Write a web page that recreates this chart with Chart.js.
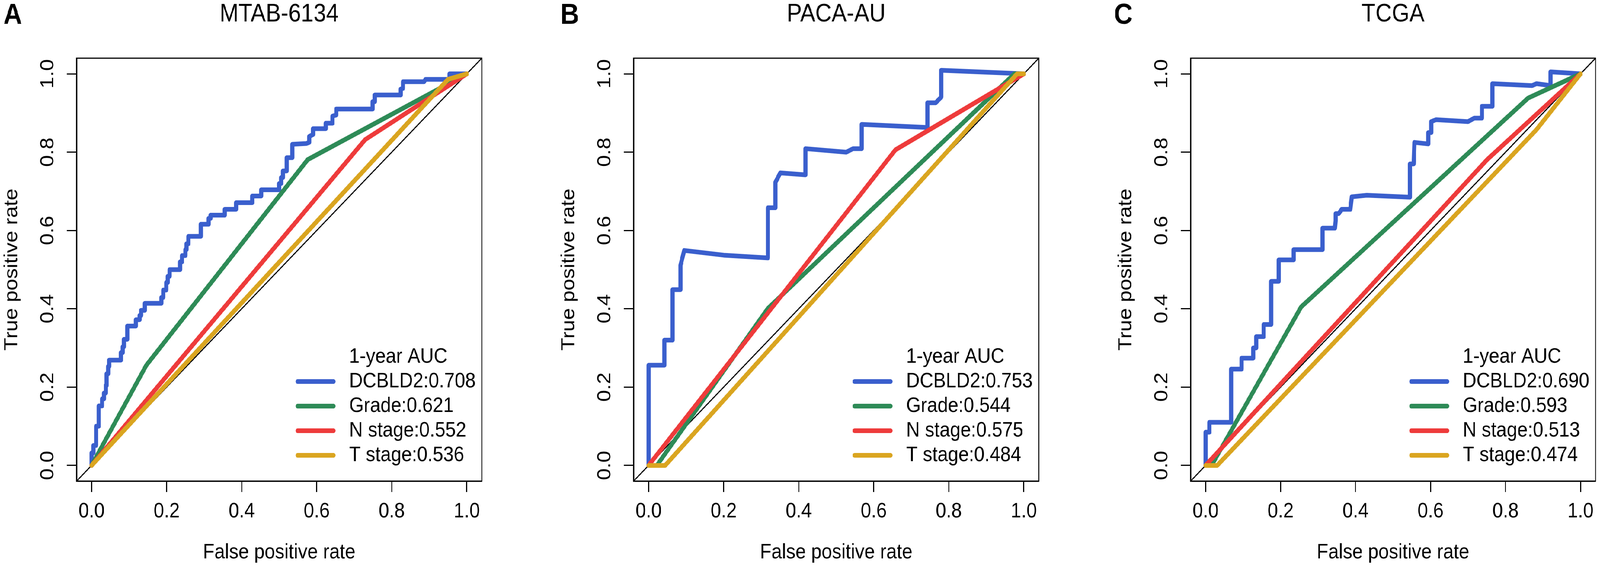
<!DOCTYPE html>
<html>
<head>
<meta charset="utf-8">
<script src="https://cdn.jsdelivr.net/npm/chart.js@4.4.1/dist/chart.umd.min.js"></script>
<style>
  html, body { margin: 0; padding: 0; background: #fff; overflow: hidden; }
  #figura { position: absolute; left: 0; top: 0; width: 4596px; height: 1452px; transform-origin: 0 0; }
  canvas { position: absolute; top: 0; }
</style>
</head>
<body>
<div id="figura">
<canvas id="painelA"></canvas>
<canvas id="painelB"></canvas>
<canvas id="painelC"></canvas>
</div>
<script>
// panel titles and letters
const titles = ["MTAB-6134", "PACA-AU", "TCGA"];
const letters = ["A", "B", "C"];
const seriesNames = ["DCBLD2", "Grade", "N stage", "T stage"];
const tickValues = [0, 0.2, 0.4, 0.6, 0.8, 1.0];
const diagonal = [-0.04, 1.04];

// AUC values shown in the legends
const aucMtab = [0.708, 0.621, 0.552, 0.536];
const aucPaca = [0.753, 0.544, 0.575, 0.484];
const aucTcga = [0.690, 0.593, 0.513, 0.474];

// ROC points [false positive rate, true positive rate]
const mtabDcbld2 = [
  [0, 0], [0, 0.032], [0.005, 0.032], [0.005, 0.051], [0.012, 0.051], [0.012, 0.10],
  [0.019, 0.10], [0.019, 0.152], [0.028, 0.152], [0.028, 0.17], [0.033, 0.17], [0.033, 0.185],
  [0.038, 0.185], [0.038, 0.204], [0.04, 0.204], [0.04, 0.234], [0.044, 0.234], [0.044, 0.253],
  [0.047, 0.253], [0.047, 0.269], [0.078, 0.269], [0.078, 0.288], [0.083, 0.288], [0.083, 0.303],
  [0.086, 0.303], [0.086, 0.322], [0.095, 0.322], [0.095, 0.356], [0.118, 0.356], [0.118, 0.372],
  [0.128, 0.372], [0.128, 0.383], [0.132, 0.383], [0.132, 0.396], [0.142, 0.396], [0.142, 0.414],
  [0.186, 0.414], [0.186, 0.429], [0.191, 0.429], [0.191, 0.448], [0.199, 0.448], [0.199, 0.467],
  [0.203, 0.467], [0.203, 0.483], [0.208, 0.483], [0.208, 0.50], [0.236, 0.50], [0.236, 0.52],
  [0.241, 0.52], [0.241, 0.536], [0.25, 0.536], [0.25, 0.551], [0.253, 0.551], [0.253, 0.566],
  [0.258, 0.566], [0.258, 0.585], [0.291, 0.585], [0.291, 0.616], [0.312, 0.616], [0.312, 0.631],
  [0.317, 0.631], [0.317, 0.639], [0.355, 0.639], [0.355, 0.654], [0.385, 0.654], [0.385, 0.671],
  [0.428, 0.671], [0.428, 0.688], [0.452, 0.688], [0.452, 0.704], [0.50, 0.704], [0.50, 0.72],
  [0.505, 0.72], [0.505, 0.735], [0.51, 0.735], [0.51, 0.752], [0.52, 0.752], [0.52, 0.786],
  [0.535, 0.786], [0.535, 0.82], [0.572, 0.822], [0.58, 0.825], [0.58, 0.84], [0.59, 0.845],
  [0.59, 0.86], [0.624, 0.86], [0.624, 0.874], [0.642, 0.874], [0.642, 0.892], [0.652, 0.895],
  [0.652, 0.91], [0.749, 0.91], [0.749, 0.929], [0.755, 0.929], [0.755, 0.946], [0.824, 0.946],
  [0.824, 0.961], [0.83, 0.963], [0.83, 0.98], [0.886, 0.98], [0.89, 0.986], [0.954, 0.986],
  [0.954, 1.0], [1, 1]
];
const mtabGrade = [[0, 0], [0.146, 0.256], [0.576, 0.781], [1, 1]];
const mtabN = [[0, 0], [0.729, 0.832], [1, 1]];
const mtabT = [[0, 0], [0.95, 0.986], [1, 1]];

const pacaDcbld2 = [
  [0, 0], [0, 0.256], [0.042, 0.256], [0.042, 0.32], [0.064, 0.32], [0.064, 0.449],
  [0.085, 0.449], [0.085, 0.511], [0.095, 0.549], [0.2, 0.537], [0.318, 0.53], [0.318, 0.658],
  [0.338, 0.658], [0.338, 0.723], [0.351, 0.747], [0.418, 0.742], [0.418, 0.809], [0.527, 0.80],
  [0.545, 0.809], [0.568, 0.809], [0.568, 0.871], [0.743, 0.863], [0.743, 0.926], [0.765, 0.926],
  [0.78, 0.941], [0.78, 1.009], [1, 1]
];
const pacaGrade = [[0, 0], [0.022, 0], [0.318, 0.401], [0.975, 1], [1, 1]];
const pacaN = [[0, 0], [0.658, 0.806], [1, 1]];
const pacaT = [[0, 0], [0.044, 0], [0.982, 1], [1, 1]];

const tcgaDcbld2 = [
  [0, 0], [0, 0.085], [0.01, 0.085], [0.01, 0.11], [0.068, 0.11], [0.068, 0.246],
  [0.096, 0.246], [0.096, 0.274], [0.127, 0.274], [0.127, 0.30], [0.135, 0.30], [0.135, 0.329],
  [0.155, 0.329], [0.155, 0.36], [0.175, 0.36], [0.175, 0.47], [0.195, 0.47], [0.195, 0.525],
  [0.235, 0.525], [0.235, 0.551], [0.312, 0.551], [0.312, 0.606], [0.345, 0.606], [0.347, 0.625],
  [0.347, 0.643], [0.355, 0.643], [0.363, 0.654], [0.386, 0.654], [0.39, 0.686], [0.43, 0.69],
  [0.545, 0.685], [0.545, 0.77], [0.555, 0.77], [0.557, 0.825], [0.594, 0.821], [0.594, 0.85],
  [0.602, 0.85], [0.602, 0.878], [0.615, 0.883], [0.70, 0.878], [0.717, 0.887], [0.737, 0.887],
  [0.737, 0.917], [0.765, 0.917], [0.765, 0.975], [0.871, 0.97], [0.883, 0.975], [0.92, 0.97],
  [0.92, 1.005], [1, 1]
];
const tcgaGrade = [[0, 0], [0.016, 0], [0.255, 0.405], [0.86, 0.938], [1, 1]];
const tcgaN = [[0, 0], [0.75, 0.78], [1, 1]];
const tcgaT = [[0, 0], [0.031, 0], [0.883, 0.858], [1, 1]];

const colors = ["#3A5FCD", "#2E8B57", "#EE3B3B", "#DAA520"];
const fontFamily = "'Liberation Sans', Arial, Helvetica, sans-serif";

const panels = [
  { id: "painelA", left: 0, width: 1600, letterX: 10, series: [mtabDcbld2, mtabGrade, mtabN, mtabT], auc: aucMtab },
  { id: "painelB", left: 1600, width: 1600, letterX: 10, series: [pacaDcbld2, pacaGrade, pacaN, pacaT], auc: aucPaca },
  { id: "painelC", left: 3200, width: 1396, letterX: 0, series: [tcgaDcbld2, tcgaGrade, tcgaN, tcgaT], auc: aucTcga }
];

// fit the 4596x1452 figure into whatever viewport we get
const escalaX = window.innerWidth / 4596;
const escalaY = window.innerHeight / 1452;
document.getElementById("figura").style.transform = `scale(${escalaX}, ${escalaY})`;

// box, title, panel letter and legend
const decoracao = {
  id: "decoracao",
  afterDatasetsDraw(chart, args, opts) {
    const { ctx, chartArea: a } = chart;
    ctx.save();
    ctx.strokeStyle = "#000";
    ctx.lineWidth = 3;
    ctx.strokeRect(a.left, a.top, a.right - a.left, a.bottom - a.top);

    ctx.fillStyle = "#000";
    ctx.font = `65px ${fontFamily}`;
    ctx.textAlign = "center";
    ctx.textBaseline = "middle";
    ctx.fillText(opts.title, (a.left + a.right) / 2, 37);

    ctx.font = `bold 74px ${fontFamily}`;
    ctx.textAlign = "left";
    ctx.textBaseline = "alphabetic";
    ctx.fillText(opts.letter, opts.letterX, 61);

    // legend
    const textX = a.right - 381;
    const segA = a.right - 529;
    const segB = a.right - 426;
    ctx.font = `54px ${fontFamily}`;
    ctx.textBaseline = "middle";
    ctx.fillText("1-year AUC", textX, 914);
    ctx.lineCap = "round";
    ctx.lineWidth = 12;
    seriesNames.forEach((nome, i) => {
      const y = 977 + i * 63;
      ctx.strokeStyle = colors[i];
      ctx.beginPath();
      ctx.moveTo(segA, y);
      ctx.lineTo(segB, y);
      ctx.stroke();
      ctx.fillText(`${nome}:${opts.auc[i].toFixed(3)}`, textX, y);
    });
    ctx.restore();
  }
};

function eixo(titulo, vertical) {
  return {
    type: "linear",
    min: diagonal[0],
    max: diagonal[1],
    afterBuildTicks: (scale) => {
      scale.ticks = tickValues.map((v) => ({ value: v }));
    },
    afterFit: (scale) => {
      if (vertical) scale.width = 220;
      else scale.height = 220;
    },
    ticks: {
      callback: (v) => Number(v).toFixed(1),
      font: { family: fontFamily, size: 54 },
      color: "#000",
      autoSkip: false,
      padding: vertical ? 16 : 18,
      minRotation: vertical ? 90 : 0,
      maxRotation: vertical ? 90 : 0,
      crossAlign: vertical ? "center" : "near"
    },
    grid: {
      drawOnChartArea: false,
      drawTicks: true,
      tickLength: 28,
      tickWidth: 3,
      tickColor: "#000"
    },
    border: { display: true, color: "#000", width: 3 },
    title: {
      display: true,
      text: titulo,
      color: "#000",
      font: { family: fontFamily, size: 54, lineHeight: 1 },
      padding: vertical ? { top: 7, bottom: 0 } : { top: 0, bottom: 10 }
    }
  };
}

panels.forEach((p, k) => {
  const canvas = document.getElementById(p.id);
  canvas.width = p.width;
  canvas.height = 1452;
  canvas.style.left = p.left + "px";
  canvas.style.width = p.width + "px";
  canvas.style.height = "1452px";

  const datasets = p.series.map((serie, i) => ({
    label: seriesNames[i],
    data: serie.map(([x, y]) => ({ x, y })),
    borderColor: colors[i],
    borderWidth: 12,
    borderCapStyle: "round",
    borderJoinStyle: "round",
    pointRadius: 0,
    tension: 0,
    order: 3 - i
  }));
  datasets.push({
    label: "diagonal",
    data: diagonal.map((v) => ({ x: v, y: v })),
    borderColor: "#000",
    borderWidth: 3,
    pointRadius: 0,
    order: 10
  });

  new Chart(canvas.getContext("2d"), {
    type: "line",
    data: { datasets },
    options: {
      responsive: false,
      animation: false,
      devicePixelRatio: 1,
      layout: { padding: { top: 149, right: p.width - 1384, left: 0, bottom: 0 } },
      scales: {
        x: eixo("False positive rate", false),
        y: eixo("True positive rate", true)
      },
      plugins: {
        legend: { display: false },
        tooltip: { enabled: false },
        decoracao: { title: titles[k], letter: letters[k], letterX: p.letterX, auc: p.auc }
      }
    },
    plugins: [decoracao]
  });
});
</script>
</body>
</html>
